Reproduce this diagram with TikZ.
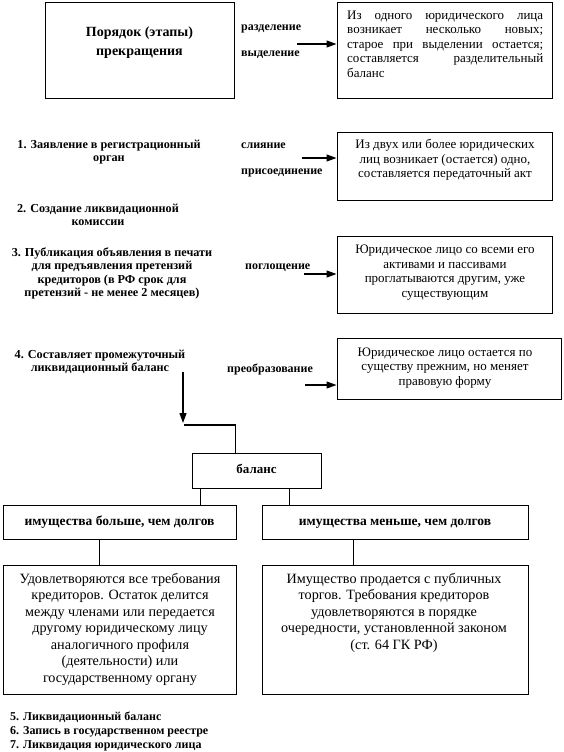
\documentclass[tikz,border=0pt]{standalone}
\usepackage{fontspec}
\setmainfont{Liberation Serif}
\usetikzlibrary{arrows.meta,calc}
\tikzset{
  box/.style={draw=black, line width=1pt, inner sep=0pt},
  boxtext/.style={text height=9.5pt, text depth=3pt},
  conn/.style={draw=black, line width=1.2pt},
  arr/.style={conn, -{Triangle[length=10pt,width=7pt]}},
  txt/.style={inner sep=0pt, align=center, font=\fontsize{13}{14.5}\selectfont},
  bigtxt/.style={inner sep=0pt, align=center, font=\fontsize{14.2}{16.5}\selectfont},
  lbl/.style={inner sep=0pt, anchor=west, text height=8.5pt, text depth=2.5pt, font=\fontsize{12}{13}\selectfont\bfseries},
  num/.style={inner sep=0pt, align=center, font=\fontsize{12.2}{13.2}\selectfont\bfseries},
  head/.style={inner sep=0pt, align=center, font=\fontsize{14}{19}\selectfont\bfseries},
}
\begin{document}
\begin{tikzpicture}[x=1pt,y=-1pt]
\useasboundingbox (0,0) rectangle (563,752);

% top boxes
\node[box, minimum width=189pt, minimum height=95pt] (b1) at (139.5,50.5) {};
\node[head] (t1) at (139.5,43) {Порядок (этапы)\\прекращения};
\node[box, minimum width=215pt, minimum height=95pt] (b2) at (444.5,50.5) {};
\node[inner sep=0pt, anchor=north west, text width=196pt, align=justify,
      font=\fontsize{13}{14.5}\selectfont] (t2) at (347,10.5)
  {Из одного юридического лица\linebreak возникает несколько новых;\linebreak старое при выделении остается;\linebreak составляется разделительный\linebreak баланс};
\node[lbl] (l1) at (241,28) {разделение};
\node[lbl] (l2) at (241,54) {выделение};
\coordinate (a1) at (297,44);
\draw[arr] (a1) -- (a1 -| b2.west);

% box 3
\node[box, minimum width=215pt, minimum height=68pt] (b3) at (444.5,166) {};
\node[txt] (t3) at (445,160) {Из двух или более юридических\\лиц возникает (остается) одно,\\составляется передаточный акт};
\node[lbl] (l3) at (241,145) {слияние};
\node[lbl] (l4) at (241,171) {присоединение};
\coordinate (a2) at (302,158);
\draw[arr] (a2) -- (a2 -| b3.west);

% box 4
\node[box, minimum width=215pt, minimum height=77pt] (b4) at (444.5,274.5) {};
\node[txt] (t4) at (445,272.5) {Юридическое лицо со всеми его\\активами и пассивами\\проглатываются другим, уже\\существующим};
\node[lbl] (l5) at (245,266) {поглощение};
\coordinate (a3) at (304,274);
\draw[arr] (a3) -- (a3 -| b4.west);

% box 5
\node[box, minimum width=224pt, minimum height=61pt] (b5) at (449,368.5) {};
\node[txt] (t5) at (445,368) {Юридическое лицо остается по\\существу прежним, но меняет\\правовую форму};
\node[lbl] (l6) at (227,369) {преобразование};
\coordinate (a4) at (305,385);
\draw[arr] (a4) -- (a4 -| b5.west);

% numbered steps
\node[num] (n1) at (109,152) {1. Заявление в регистрационный\\орган};
\node[num] (n2) at (98,215) {2. Создание ликвидационной\\комиссии};
\node[num] (n3) at (112,273.5) {3. Публикация объявления в печати\\для предъявления претензий\\кредиторов (в РФ срок для\\претензий - не менее 2 месяцев)};
\node[num] (n4) at (100,362) {4. Составляет промежуточный\\ликвидационный баланс};

% balance
\node[box, boxtext, minimum width=129pt, minimum height=35pt, font=\fontsize{13}{15}\selectfont\bfseries] (bal) at (256.5,470.5) {баланс};
\coordinate (v1) at (183,372);
\coordinate (v2) at (183,423);
\draw[arr] (v1) -- (v2);
\coordinate (h1) at (184,425);
\draw[conn] (h1) -| ([xshift=44pt]bal.north west);

\node[box, boxtext, minimum width=233pt, minimum height=34pt, font=\fontsize{13.5}{15}\selectfont\bfseries] (lb) at (119.5,522) {имущества больше, чем долгов};
\node[box, boxtext, minimum width=266pt, minimum height=34pt, font=\fontsize{13.5}{15}\selectfont\bfseries] (rb) at (395,522) {имущества меньше, чем долгов};
\draw[conn] ([xshift=9pt]bal.south west) -- ([xshift=9pt]bal.south west |- lb.north);
\draw[conn] ([xshift=98pt]bal.south west) -- ([xshift=98pt]bal.south west |- rb.north);

\node[box, minimum width=233pt, minimum height=129pt] (lbb) at (119.5,629.5) {};
\node[bigtxt] (t6) at (120,629) {Удовлетворяются все требования\\кредиторов. Остаток делится\\между членами или передается\\другому юридическому лицу\\аналогичного профиля\\(деятельности) или\\государственному органу};
\node[box, minimum width=266pt, minimum height=129pt] (rbb) at (395,629.5) {};
\node[bigtxt] (t7) at (394,612.5) {Имущество продается с публичных\\торгов. Требования кредиторов\\удовлетворяются в порядке\\очередности, установленной законом\\(ст. 64 ГК РФ)};
\draw[conn] ([xshift=97pt]lb.south west) -- ([xshift=97pt]lb.south west |- lbb.north);
\draw[conn] ([xshift=92pt]rb.south west) -- ([xshift=92pt]rb.south west |- rbb.north);

\node[inner sep=0pt, anchor=north west, align=left, font=\fontsize{12}{14}\selectfont\bfseries] (n5) at (10,711.5)
  {5. Ликвидационный баланс\\6. Запись в государственном реестре\\7. Ликвидация юридического лица};
\end{tikzpicture}
\end{document}
